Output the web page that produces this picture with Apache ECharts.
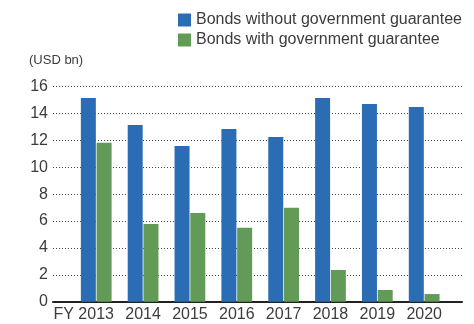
<!DOCTYPE html>
<html><head><meta charset="utf-8">
<script src="https://cdn.jsdelivr.net/npm/echarts@6/dist/echarts.min.js"></script>
<style>html,body{margin:0;padding:0;background:#fff}#c{width:474px;height:324px}</style>
</head><body><div id="c"></div>
<script>
const years = ['2013','2014','2015','2016','2017','2018','2019','2020'];
const withoutGuarantee = [15.15, 13.15, 11.58, 12.85, 12.25, 15.15, 14.71, 14.49];
const withGuarantee = [11.83, 5.78, 6.6, 5.51, 7.0, 2.36, 0.87, 0.57];
const seriesNames = ['Bonds without government guarantee', 'Bonds with government guarantee'];
const unitLabel = '(USD bn)';
const yMin = 0, yMax = 16, yStep = 2;

const font = 'Liberation Sans';
const txt = '#3c3c3c';
const chart = echarts.init(document.getElementById('c'), null, {renderer:'canvas'});
chart.setOption({
  animation:false,
  textStyle:{fontFamily:font},
  legend:{orient:'vertical', left:178, top:12, padding:0, icon:'rect', itemWidth:13, itemHeight:13, itemGap:4,
    textStyle:{fontSize:16, color:txt, fontFamily:font},
    data:seriesNames},
  graphic:[{type:'text', left:29, top:54, style:{text:unitLabel, fontSize:13, fill:txt, fontFamily:font}}],
  grid:[
    {left:53, right:12, top:86.7, bottom:22.3},
    {left:72.8, right:26.4, top:86.7, bottom:22.3}
  ],
  xAxis:[
    {gridIndex:0, type:'value', min:0, max:1, axisLine:{show:true, onZero:false, lineStyle:{color:'#222', width:2}},
     axisTick:{show:false}, axisLabel:{show:false}, splitLine:{show:false}},
    {gridIndex:1, type:'category', data:years, axisLine:{show:false}, axisTick:{show:false},
     axisLabel:{interval:0, fontSize:16, color:txt, margin:5, fontFamily:font,
       formatter:(v,i)=> i===0 ? '{fy|FY }{n|'+v+'}{p|}' : v,
       rich:{fy:{fontSize:16,color:txt,fontFamily:font}, n:{fontSize:16,color:txt,fontFamily:font}, p:{width:25}}}}
  ],
  yAxis:[
    {gridIndex:0, type:'value', min:yMin, max:yMax, interval:yStep,
     axisLine:{show:false}, axisTick:{show:false},
     axisLabel:{fontSize:16, color:txt, margin:5, fontFamily:font},
     splitLine:{show:true, lineStyle:{color:'#444', type:[1,2], width:1}}},
    {gridIndex:1, type:'value', min:yMin, max:yMax, interval:yStep, show:false}
  ],
  series:[
    {name:seriesNames[0], type:'bar', xAxisIndex:1, yAxisIndex:1, data:withoutGuarantee,
     barWidth:15, barGap:'5%', itemStyle:{color:'#2b6db4'}},
    {name:seriesNames[1], type:'bar', xAxisIndex:1, yAxisIndex:1, data:withGuarantee,
     barWidth:15, barGap:'5%', itemStyle:{color:'#629a57'}}
  ]
});
</script></body></html>
